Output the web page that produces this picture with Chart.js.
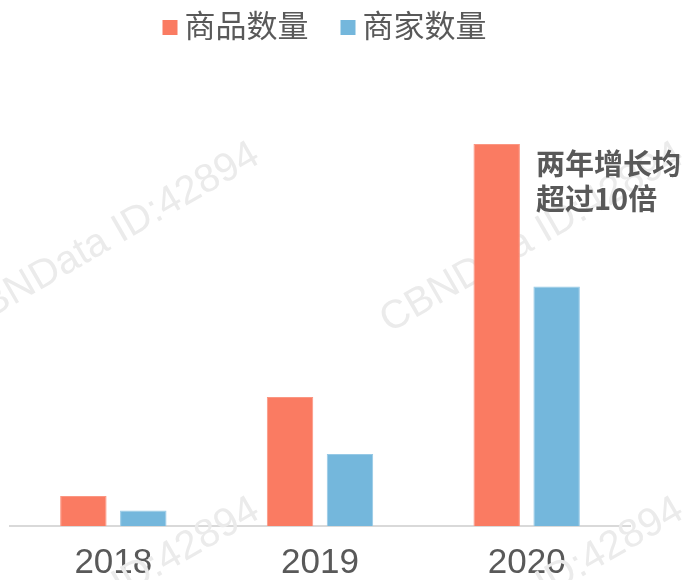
<!DOCTYPE html>
<html>
<head>
<meta charset="utf-8">
<script src="https://cdn.jsdelivr.net/npm/chart.js@4/dist/chart.umd.min.js"></script>
<style>
  html, body { margin: 0; padding: 0; background: #ffffff; }
  #wrap { width: 687px; height: 580px; position: relative; }
</style>
</head>
<body>
<div id="wrap"><canvas id="c" width="687" height="580"></canvas></div>
<script>
// ---- data ----
const categories = ['2018', '2019', '2020'];
const seriesNames = ['商品数量', '商家数量'];
const productCounts = [30, 129, 382];
const merchantCounts = [15.5, 72, 239.5];
const annotationLines = ['两年增长均', '超过10倍'];
const watermarkText = 'CBNData ID:42894';

// ---- styles ----
const CORAL = '#FA7B62';
const BLUE = '#74B7DC';
const TEXT = '#595959';
const CJK = '"Noto Sans CJK SC", "Noto Sans", sans-serif';

const watermarkPlugin = {
  id: 'watermark',
  beforeDatasetsDraw(chart) {
    const ctx = chart.ctx;
    const centers = [[108, 238], [532, 238], [108, 593], [532, 593]];
    ctx.save();
    ctx.fillStyle = '#ebebeb';
    ctx.font = '40px "Liberation Sans", Arial, sans-serif';
    ctx.textAlign = 'center';
    ctx.textBaseline = 'middle';
    centers.forEach(([x, y]) => {
      ctx.save();
      ctx.translate(x, y);
      ctx.rotate(-30 * Math.PI / 180);
      ctx.fillText(watermarkText, 0, 0);
      ctx.restore();
    });
    ctx.restore();
  }
};

const legendPlugin = {
  id: 'customLegend',
  afterDraw(chart) {
    const ctx = chart.ctx;
    const size = 31;
    ctx.save();
    ctx.font = size + 'px ' + CJK;
    const items = chart.data.datasets.map(ds => ({
      label: ds.label, color: ds.backgroundColor, w: ctx.measureText(ds.label).width
    }));
    const box = 16, gap = 6, itemGap = 32;
    let total = 0;
    items.forEach((it, i) => { total += box + gap + it.w + (i < items.length - 1 ? itemGap : 0); });
    let x = 324.5 - total / 2;
    const centerY = 25.3;
    items.forEach(it => {
      ctx.fillStyle = it.color;
      ctx.fillRect(x, 20, box - 1, 15);
      x += box + gap;
      ctx.fillStyle = TEXT;
      ctx.textBaseline = 'alphabetic';
      ctx.textAlign = 'left';
      ctx.fillText(it.label, x, centerY + 0.38 * size);
      x += it.w + itemGap;
    });
    ctx.restore();
  }
};

const annotationPlugin = {
  id: 'noteText',
  afterDatasetsDraw(chart) {
    const ctx = chart.ctx;
    const meta = chart.getDatasetMeta(0);
    const bar = meta.data[meta.data.length - 1];
    const size = 29;
    const x = bar.x + bar.width / 2 + 16;
    ctx.save();
    ctx.font = 'bold ' + size + 'px ' + CJK;
    ctx.fillStyle = TEXT;
    ctx.textAlign = 'left';
    ctx.textBaseline = 'alphabetic';
    annotationLines.forEach((line, i) => {
      ctx.fillText(line, x, bar.y + 20.2 + i * 35 + 0.38 * size);
    });
    ctx.restore();
  }
};

new Chart(document.getElementById('c'), {
  type: 'bar',
  data: {
    labels: categories,
    datasets: [
      {
        label: seriesNames[0],
        data: productCounts,
        backgroundColor: CORAL,
        borderColor: '#FB9682',
        borderWidth: 1,
        borderSkipped: 'start',
        barPercentage: 0.775,
        categoryPercentage: 0.58
      },
      {
        label: seriesNames[1],
        data: merchantCounts,
        backgroundColor: BLUE,
        borderColor: '#96C9E6',
        borderWidth: 1,
        borderSkipped: 'start',
        barPercentage: 0.775,
        categoryPercentage: 0.58
      }
    ]
  },
  options: {
    responsive: false,
    devicePixelRatio: 1,
    animation: false,
    layout: { padding: { top: 126, left: 10, right: 57, bottom: 0 } },
    plugins: {
      legend: { display: false },
      tooltip: { enabled: false }
    },
    scales: {
      x: {
        grid: { display: false, drawTicks: false },
        border: { display: true, color: '#d9d9d9', width: 2 },
        ticks: {
          color: TEXT,
          padding: 19.5,
          font: { family: '"Liberation Sans", Arial, sans-serif', size: 35, lineHeight: 1 }
        },
        afterFit(scale) { scale.height = 54; }
      },
      y: {
        display: false,
        min: 0,
        max: 400
      }
    }
  },
  plugins: [watermarkPlugin, legendPlugin, annotationPlugin]
});
</script>
</body>
</html>
